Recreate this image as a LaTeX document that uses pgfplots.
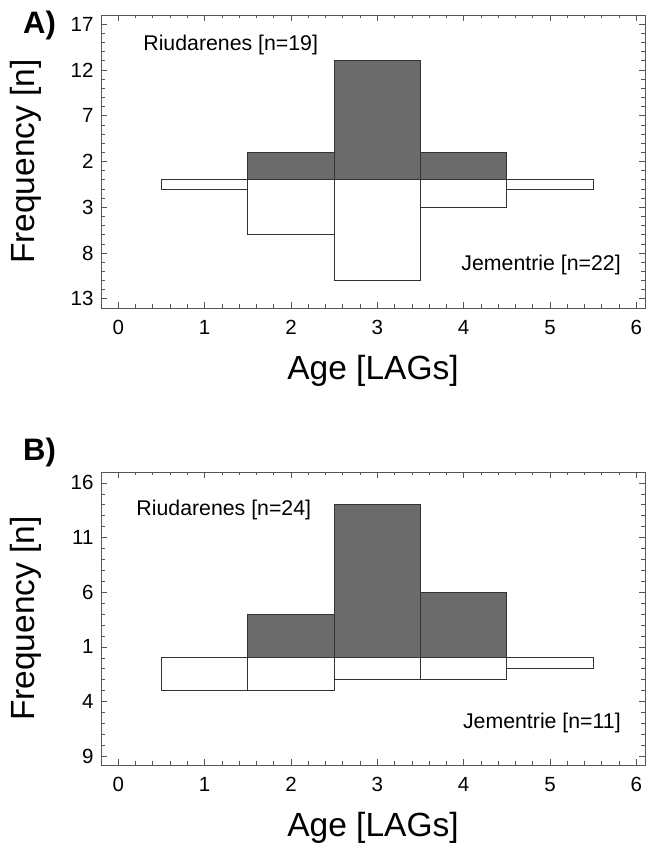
\documentclass[border=0pt]{standalone}
\usepackage{fontspec}
\setmainfont{Liberation Sans}
\usepackage{pgfplots}
\pgfplotsset{compat=1.18}
\definecolor{barfill}{HTML}{6B6B6B}
\definecolor{edge}{HTML}{333333}
\definecolor{frame}{HTML}{555555}
\pgfplotsset{panel/.style={
  scale only axis, width=544pt, height=293pt,
  xmin=-0.2, xmax=6.1,
  xtick={0,1,2,3,4,5,6}, xticklabels={0,1,2,3,4,5,6},
  minor x tick num=4, minor y tick num=4,
  tick align=inside, xtick pos=both, ytick pos=both,
  major tick length=6pt, minor tick length=3.5pt,
  axis line style={frame, line width=0.9pt},
  every tick/.style={frame, line width=0.7pt},
  tick label style={font=\fontsize{20.5}{24}\selectfont},
  xticklabel style={yshift=-9pt},
  yticklabel style={xshift=-4pt},
  label style={font=\fontsize{33.5}{38}\selectfont},
  xlabel={Age [LAGs]}, ylabel={Frequency [n]},
  xlabel style={at={(axis description cs:0.5,-0.2457)}, anchor=base},
  ylabel style={at={(axis description cs:-0.1379,0.5)}, anchor=center},
  /pgf/number format/assume math mode=true,
  clip=false,
  anchor=south west,
}}
\begin{document}
\begin{tikzpicture}
\useasboundingbox (0,0) rectangle (654pt,843pt);
% Panel A
\begin{axis}[panel, at={(101pt,535pt)},
  ymin=-14, ymax=18,
  ytick={17,12,7,2,-3,-8,-13}, yticklabels={17,12,7,2,3,8,13}]
\addplot[ybar, bar width=1, bar shift=0pt, fill=white, draw=edge, line width=0.8pt]
  coordinates {(1,-1) (2,-6) (3,-11) (4,-3) (5,-1)};
\addplot[ybar, bar width=1, bar shift=0pt, fill=barfill, draw=edge, line width=0.8pt]
  coordinates {(2,3) (3,13) (4,3)};
\node[anchor=west, font=\fontsize{21.3}{24}\selectfont] at (axis cs:0.25,14.7) {Riudarenes [n=19]};
\node[anchor=east, font=\fontsize{21.3}{24}\selectfont] at (axis cs:5.86,-9.3) {Jementrie [n=22]};
\end{axis}
% Panel B
\begin{axis}[panel, at={(101pt,78pt)},
  ymin=-9.8, ymax=17,
  ytick={16,11,6,1,-4,-9}, yticklabels={16,11,6,1,4,9}]
\addplot[ybar, bar width=1, bar shift=0pt, fill=white, draw=edge, line width=0.8pt]
  coordinates {(1,-3) (2,-3) (3,-2) (4,-2) (5,-1)};
\addplot[ybar, bar width=1, bar shift=0pt, fill=barfill, draw=edge, line width=0.8pt]
  coordinates {(2,4) (3,14) (4,6)};
\node[anchor=west, font=\fontsize{21.3}{24}\selectfont] at (axis cs:0.17,13.5) {Riudarenes [n=24]};
\node[anchor=east, font=\fontsize{21.3}{24}\selectfont] at (axis cs:5.86,-6.0) {Jementrie [n=11]};
\end{axis}
\node[anchor=west, font=\bfseries\fontsize{31}{36}\selectfont, inner sep=0pt] at (23pt,818pt) {A)};
\node[anchor=west, font=\bfseries\fontsize{31}{36}\selectfont, inner sep=0pt] at (23pt,391pt) {B)};
\end{tikzpicture}
\end{document}
